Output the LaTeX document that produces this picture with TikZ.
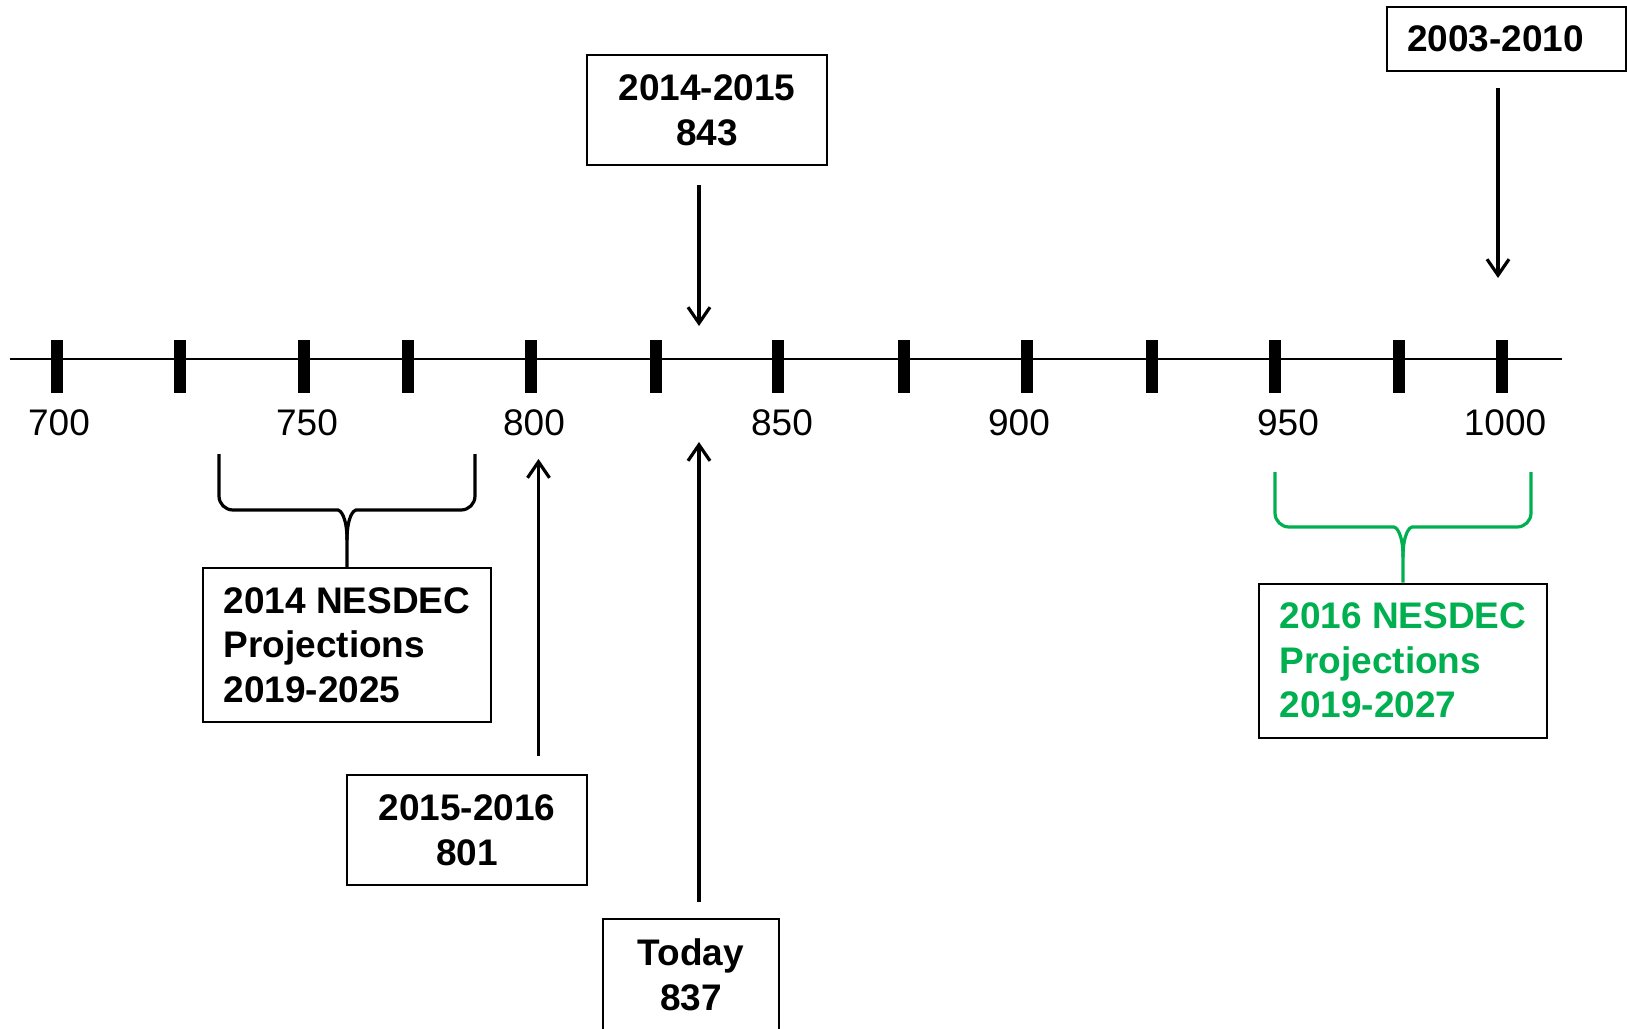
\documentclass[tikz,border=0pt]{standalone}
\usepackage{fontspec}
\setmainfont{Liberation Sans}
\usetikzlibrary{arrows.meta}
\definecolor{nesGreen}{HTML}{00B050}

\begin{document}
\begin{tikzpicture}[x=0.5pt, y=-0.5pt,
  yearbox/.style={draw, line width=1pt, minimum width=120pt, minimum height=55pt,
                  inner sep=0pt, align=center,
                  font=\fontsize{18.5}{22.3}\selectfont\bfseries},
  projbox/.style={draw, line width=1pt, minimum width=144pt, minimum height=77pt,
                  inner sep=0pt, align=left,
                  font=\fontsize{18.5}{22.3}\selectfont\bfseries},
  axlabel/.style={font=\fontsize{18.5}{22}\selectfont},
  axtick/.style={line width=6pt},
  arr/.style={-{Straight Barb[length=8pt,width=11pt]}, line width=1.6pt},
  brace/.style={line width=1.6pt}
]
\fill[white] (0,0) rectangle (1627,1028);
\useasboundingbox (0,0) rectangle (1627,1028);

\draw[line width=1.3pt] (10,359) -- (1562,359);
\foreach \x in {57,179.5,304,408,531,656,778,904,1027,1152,1275,1399,1502}
  \draw[axtick] (\x,340) -- (\x,393);
\foreach \x/\v in {59/700,307/750,534/800,782/850,1019/900,1288/950,1505/1000}
  \node[axlabel] (lab\v) at (\x,423) {\v};

\node[yearbox] (y843) at (707,110) {2014-2015\\843};
\node[yearbox, minimum width=119.5pt, minimum height=32pt, text width=99pt, align=left]
  (y2003) at (1506,39) {2003-2010};
\node[yearbox] (y801) at (467,830) {2015-2016\\801};
\node[yearbox, minimum width=88pt, minimum height=56pt] (today) at (691,975) {Today\\837};
\node[projbox] (proj14) at (347,645) {2014 NESDEC\\Projections\\2019-2025};
\node[projbox, text=nesGreen] (proj16) at (1403,660.5) {2016 NESDEC\\Projections\\2019-2027};

\coordinate (p843) at (699,326);
\coordinate (p2003) at (1498,278);
\coordinate (p801) at (538.5,459);
\coordinate (pToday) at (699,442);

\draw[arr, shorten <=9.5pt] (y843.south -| p843) -- (p843);
\draw[arr, shorten <=8pt] (y2003.south -| p2003) -- (p2003);
\draw[arr, shorten <=9pt] (y801.north -| p801) -- (p801);
\draw[arr, shorten <=8pt] (today.north -| pToday) -- (pToday);

% braces
\draw[brace] (219,454) [rounded corners=7pt] -- (219,510) -- (324,510) [sharp corners]
  .. controls (340,510) and (347,516) .. (347,540) -- (proj14.north);
\draw[brace] (475,454) [rounded corners=7pt] -- (475,510) -- (370,510) [sharp corners]
  .. controls (354,510) and (347,516) .. (347,540);
\draw[brace, nesGreen] (1275,472) [rounded corners=7pt] -- (1275,527) -- (1380,527) [sharp corners]
  .. controls (1396,527) and (1403,533) .. (1403,557) -- (proj16.north);
\draw[brace, nesGreen] (1531,472) [rounded corners=7pt] -- (1531,527) -- (1426,527) [sharp corners]
  .. controls (1410,527) and (1403,533) .. (1403,557);
\end{tikzpicture}
\end{document}
